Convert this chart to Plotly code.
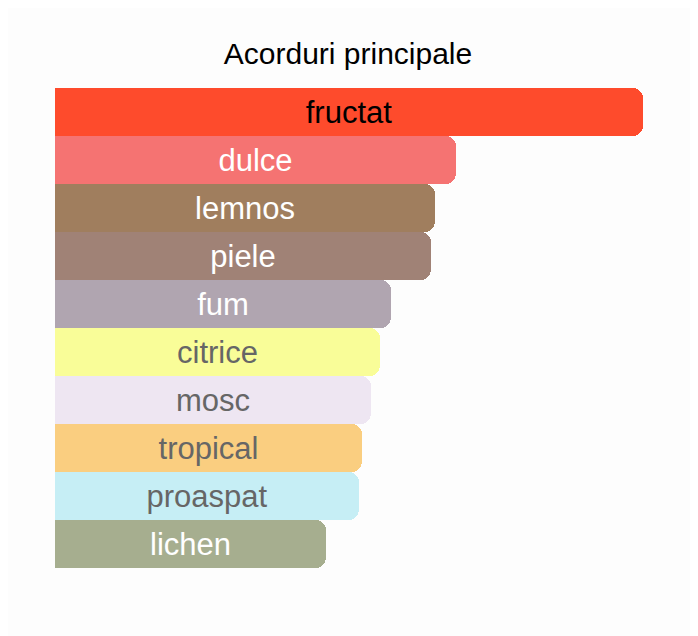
import plotly.graph_objects as go

# 数据
accords = ["fructat", "dulce", "lemnos", "piele", "fum", "citrice", "mosc", "tropical", "proaspat", "lichen"]
values = [100, 68.2, 64.6, 63.9, 57.1, 55.3, 53.7, 52.2, 51.7, 46.1]
bar_colors = ["#FE4B2C", "#F57372", "#A07E5E", "#A08276", "#B0A5B0",
              "#F9FD98", "#EEE6F2", "#FACE80", "#C6EEF5", "#A6AE8F"]
text_colors = ["#000000", "#FFFFFF", "#FFFFFF", "#FFFFFF", "#FFFFFF",
               "#666666", "#666666", "#666666", "#666666", "#FFFFFF"]

fig = go.Figure(go.Bar(
    x=values, y=accords, orientation="h",
    marker=dict(color=bar_colors, line=dict(width=0), cornerradius=10),
    text=accords, textposition="inside", insidetextanchor="middle",
    textfont=dict(family="Liberation Sans, Arial", size=31, color=text_colors),
    hoverinfo="x+y",
))

fig.update_layout(
    title=dict(text="Acorduri principale", x=340 / 698, xanchor="center", xref="container",
               y=1 - 45 / 636, yanchor="middle", yref="container",
               font=dict(family="Liberation Sans, Arial", size=30, color="#000")),
    width=698, height=636,
    margin=dict(l=47, r=63, t=80, b=76),
    paper_bgcolor="#FDFDFD", plot_bgcolor="#FDFDFD",
    bargap=0, showlegend=False,
    xaxis=dict(visible=False, range=[0, max(values)], fixedrange=True),
    yaxis=dict(visible=False, autorange="reversed", fixedrange=True),
    uniformtext=dict(minsize=10, mode="show"),
)

fig.write_html("out.html")
